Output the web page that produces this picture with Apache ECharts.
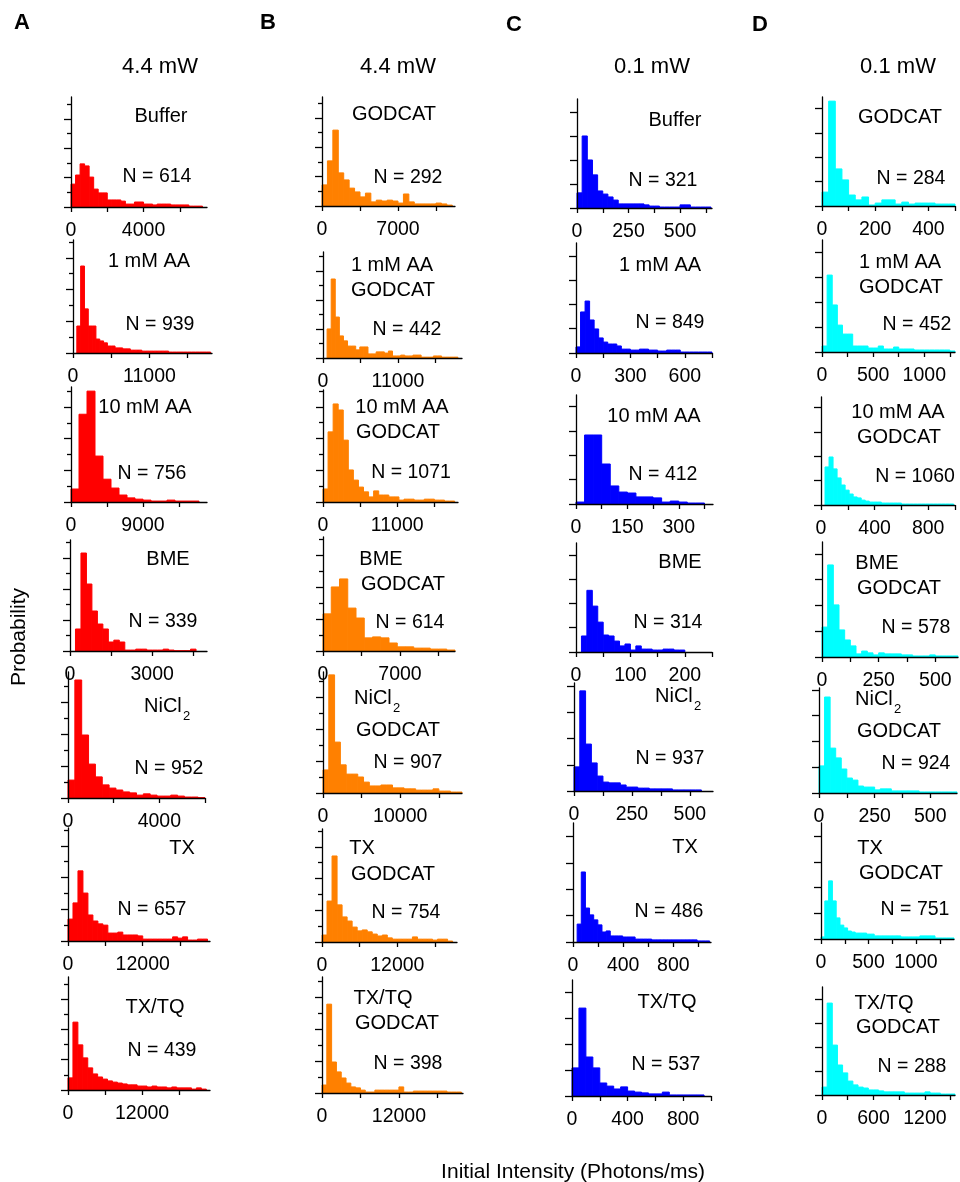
<!DOCTYPE html>
<html><head><meta charset="utf-8">
<script src="https://cdn.jsdelivr.net/npm/echarts@6/dist/echarts.min.js"></script>
<style>html,body{margin:0;padding:0;background:#fff}#c{width:960px;height:1182px}</style>
</head><body><div id="c"></div>
<script>
// ---------------- DATA (probability, % ; bins start at 0) ----------------
const condA = [['Buffer'],['1 mM AA'],['10 mM AA'],['BME'],['NiCl_2'],['TX'],['TX/TQ']];
const condB = [['GODCAT'],['1 mM AA','GODCAT'],['10 mM AA','GODCAT'],['BME','GODCAT'],['NiCl_2','GODCAT'],['TX','GODCAT'],['TX/TQ','GODCAT']];
const condC = condA;
const condD = condB;
const countsA = [614, 939, 756, 339, 952, 657, 439];
const countsB = [292, 442, 1071, 614, 907, 754, 398];
const countsC = [321, 849, 412, 314, 937, 486, 537];
const countsD = [284, 452, 1060, 578, 924, 751, 288];

const binA = [250, 550, 1000, 200, 300, 800, 800];
const binB = [500, 600, 750, 750, 750, 800, 750];
const binC = [25, 25, 25, 10, 25, 33, 50];
const binD = [25, 50, 30, 25, 25, 40, 60];

const xMaxA = [7500, 20000, 17000, 5000, 6000, 22800, 23000];
const xMaxB = [12250, 20400, 20000, 12000, 18000, 21500, 22000];
const xMaxC = [655, 750, 400, 250, 600, 1100, 1000];
const xMaxD = [500, 1300, 1000, 600, 620, 1400, 1550];
const xStepA = [2000, 5500, 4500, 1500, 2000, 6000, 6000];
const xStepB = [3500, 5500, 5500, 3500, 5000, 6000, 6000];
const xStepC = [125, 150, 75, 50, 125, 200, 200];
const xStepD = [100, 250, 200, 125, 125, 250, 300];
const xLabelsA = [[0,4000],[0,11000],[0,9000],[0,3000],[0,4000],[0,12000],[0,12000]];
const xLabelsB = [[0,7000],[0,11000],[0,11000],[0,7000],[0,10000],[0,12000],[0,12000]];
const xLabelsC = [[0,250,500],[0,300,600],[0,150,300],[0,100,200],[0,250,500],[0,400,800],[0,400,800]];
const xLabelsD = [[0,200,400],[0,500,1000],[0,400,800],[0,250,500],[0,250,500],[0,500,1000],[0,600,1200]];
const yMaxA = [37.5, 35.6, 36.3, 35.8, 39.4, 35.6, 37.3];
const yMaxB = [37.2, 36.5, 35.3, 35.6, 37.8, 35.6, 36.3];
const yMaxC = [45.4, 45.3, 44.7, 44.9, 41.2, 45.2, 44.6];
const yMaxD = [44.7, 45.0, 44.3, 44.6, 40.7, 45.1, 45.0];
const yMajorAB = [0, 10, 20, 30];
const yMinorAB = [5, 15, 25, 35];
const yMajorCD = [0, 10, 20, 30, 40];

const probA1 = [7.8,10.9,14.7,14.0,10.2,6.1,4.8,4.8,2.4,2.4,2.4,2.0,1.0,1.0,1.7,1.7,1.0,1.0,0.7,1.0,1.0,1.0,0.7,0.7,0.7,0.7,0.3,0.3,0.3,0];
const probA2 = [0,8.5,27.4,13.9,8.5,8.5,4.4,3.8,3.2,2.2,2.2,1.6,1.6,1.3,1.3,0.9,0.9,0.9,0.6,0.6,0.6,0.6,0.6,0.6,0.6,0.3,0.3,0.3,0.3,0.3,0.3,0.3,0.3,0.3,0.3,0.3];
const probA3 = [4.1,27.7,35.0,14.5,7.2,4.4,2.2,1.3,0.9,0.6,0.3,0.3,0.6,0.3,0.3,0.3,0];
const probA4 = [0,7.1,31.6,21.6,12.9,8.7,7.1,2.9,3.5,2.9,0.3,0.3,0.6,0.6,0.3,0.3,0.3,0.6,0.3,0.1,0.1,0.1,0.6,0,0];
const probA5 = [5.6,36.9,19.7,10.6,6.6,4.1,3.1,2.5,1.9,1.6,0.9,1.3,0.9,0.6,0.6,0.9,0.6,0.3,0.3,0.1];
const probA6 = [6.9,12.0,22.1,15.1,8.2,6.3,5.4,5.0,2.5,2.5,2.8,1.9,1.9,1.9,1.6,0.6,0.6,0.6,0.6,0.6,0.6,1.3,0.9,1.3,0.3,0.3,0.6,0.6];
const probA7 = [4.0,22.4,14.9,10.6,7.3,5.3,4.3,3.6,3.0,2.6,2.3,2.0,1.7,1.7,1.3,1.3,1.0,1.3,1.0,1.0,0.7,1.0,0.7,0.7,0.7,0.3,0.7,0.3];

const probB1 = [7.2,15.4,25.9,11.3,8.9,6.1,4.8,3.1,4.4,1.4,2.0,1.7,2.0,1.7,1.0,4.1,1.4,0.7,0.7,0.7,0.7,1.0,0.7,0.3];
const probB2 = [0,10.0,27.2,14.1,7.6,5.9,4.1,4.1,2.8,3.8,3.8,1.4,1.4,2.1,2.1,1.7,2.4,0.7,0.7,1.0,0.7,0.7,1.0,1.0,0.3,0.3,0.3,0.7,0.7,0.3,0.3,0.3,0.3,0];
const probB3 = [4.1,22.1,30.9,29.0,19.5,10.1,6.9,4.7,3.2,1.6,3.5,2.2,2.2,1.6,1.6,0.6,0.9,0.9,0.6,0.6,0.9,0.9,0.6,0.6,0.3,0.3,0];
const probB4 = [11.6,20.0,22.5,13.4,10.3,4.1,4.4,4.1,2.5,1.3,1.3,0.9,0.9,0.6,0.6,0.3];
const probB5 = [7.2,36.9,15.9,8.8,5.9,5.9,5.0,3.4,2.2,2.2,2.5,2.5,1.6,1.6,1.3,1.3,0.9,0.9,0.9,1.3,0.6,0.6,0.3,0.3];
const probB6 = [2.2,12.9,27.1,11.7,7.9,6.6,4.7,3.5,3.8,3.2,2.5,1.9,2.2,1.3,0.9,0.9,0.9,0.9,1.6,0.9,0.9,0.9,0.6,0.9,0.9,0.3,0];
const probB7 = [2.5,27.8,9.7,6.6,4.7,3.1,1.9,1.6,0.9,0.3,0.3,0.9,0.9,0.9,0.9,0.9,1.9,0.3,0.3,0.6,0.6,0.6,0.6,0.6,0.6,0.6,0.3,0.3,0.3];

const probC1 = [6.3,30.0,20.0,13.8,7.1,5.8,4.6,3.3,1.7,1.7,1.7,1.7,1.7,1.3,0.8,0.8,0.4,0.4,0.4,0.4,1.3,1.3,0.4,0.4,0.4,0.4,0];
const probC2 = [2.5,16.9,21.4,13.6,9.9,6.2,4.5,3.7,3.7,2.9,1.6,1.6,1.2,1.2,1.6,1.6,1.2,1.2,0.8,0.8,1.2,1.2,1.2,0.4,0.4,0.4,0.4,0.4,0.4,0.4];
const probC3 = [0.8,28.3,28.3,16.4,7.4,4.9,4.5,2.9,2.9,2.5,0.8,1.2,0.8,0.4,0.4,0];
const probC4 = [0,6.6,25.4,18.9,12.3,7.0,6.6,4.5,2.5,3.3,0.8,2.5,1.2,1.2,0.8,0.8,1.2,1.2,0.8,0.8,0,0,0,0,0];
const probC5 = [9.2,38.2,17.9,10.7,5.7,3.4,3.1,3.1,2.3,1.5,1.5,1.1,1.1,0.8,0.8,0.8,0.8,0.4,0.4,0.4,0.4,0.4,0,0];
const probC6 = [0,6.8,26.6,12.9,10.3,8.4,6.5,3.8,4.2,2.3,2.3,2.3,1.9,1.9,1.9,1.1,1.1,1.1,1.1,0.8,0.8,0.8,0.8,0.8,0.8,0.8,0.8,0.8,0.8,0.8,0.4,0.4,0.4,0];
const probC7 = [10.8,33.8,15.0,10.8,5.0,3.8,2.7,3.5,1.9,1.5,1.2,0.8,0.8,1.5,0.4,0.4,0.4,0.4,0.4,0];

const probD1 = [5.7,43.0,15.2,10.7,4.5,2.5,3.7,0.4,1.2,2.5,2.5,0.8,1.6,0.8,1.2,1.2,1.2,0.8,0.8,0.8];
const probD2 = [2.4,30.9,18.9,10.8,7.2,7.2,2.4,2.4,2.4,1.6,1.6,2.4,1.2,1.2,2.0,1.2,1.2,1.2,0.8,0.8,0.8,0.8,0.8,0.8,0.8,0.4];
const probD3 = [0,15.6,19.7,14.8,11.1,8.2,6.1,4.5,3.3,2.9,2.0,1.6,1.2,1.2,1.2,0.8,0.8,0.8,0.8,0.8,0.4,0.4,0.4,0.4,0.4,0.4,0.4,0.4,0.4,0.4,0.4,0.4,0.4,0];
const probD4 = [11.6,35.7,20.2,10.5,6.6,4.3,1.2,2.3,1.6,0.8,1.6,1.2,1.2,1.2,0.8,0.8,0.4,0.4,0.4,0.8,0.4,0.4,0.4,0.4];
const probD5 = [10.5,37.2,17.4,13.6,9.3,5.8,5.0,2.7,2.3,2.3,1.2,1.6,1.6,0.8,0.8,0.8,0.8,0.8,0.4,0.4,0.4,0.4,0.4,0.4,0.4];
const probD6 = [0.8,14.8,22.6,14.8,8.2,5.4,4.3,3.1,2.7,2.3,2.3,2.3,1.9,1.9,1.2,1.2,1.2,1.2,1.2,1.2,1.2,0.8,0.8,0.8,0.8,0.8,1.2,1.2,1.2,1.2,0.4,0.4,0.4,0.4,0.4];
const probD7 = [3.3,38.3,20.8,12.5,9.2,5.8,4.2,3.3,2.9,2.1,2.1,1.7,1.3,1.3,1.3,1.3,0.8,0.8,0.8,0.8,1.3,0.8,0.8,0.4,0.4,0.4];

// ---------------- LAYOUT (pixels) ----------------
const boxA = [[71,207,97,207],[73,212,240,353],[71,207,387,502],[70,207,540,651],[68,205,672,798],[68,210,828,941],[68,210,977,1090]];
const boxB = [[322,455,97,206],[323,462,252,358],[323,458,390,502],[323,455,537,651],[323,462,672,793],[322,457,829,942],[322,463,977,1093]];
const boxC = [[577,712,99,208],[576,712,243,353],[576,713,395,504],[576,712,543,652],[574,713,683,791],[573,711,823,942],[572,711,980,1096]];
const boxD = [[822,955,97,206],[822,955,240,352],[821,955,397,505],[822,958,542,657],[819,957,688,793],[821,954,823,939],[822,955,987,1095]];
const labelPosA = [[[161,116]],[[149,261]],[[145,407]],[[168,559]],[[144,706]],[[182,848]],[[155,1007]]];
const labelPosB = [[[394,114]],[[392,265],[393,290]],[[402,407],[398,432]],[[381,559],[403,584]],[[354,698],[398,730]],[[362,848],[393,874]],[[383,998],[397,1023]]];
const labelPosC = [[[675,120]],[[660,265]],[[654,416]],[[680,562]],[[655,696]],[[685,847]],[[667,1002]]];
const labelPosD = [[[900,117]],[[900,262],[901,287]],[[898,412],[899,437]],[[877,563],[899,588]],[[855,699],[899,731]],[[870,848],[901,873]],[[884,1003],[898,1027]]];
const nPosA = [[157,177],[160,325],[152,474],[163,622],[169,769],[152,910],[162,1051]];
const nPosB = [[408,178],[407,330],[411,473],[410,623],[408,763],[406,913],[408,1064]];
const nPosC = [[663,181],[670,323],[663,475],[668,623],[670,759],[669,912],[666,1065]];
const nPosD = [[911,179],[917,325],[915,477],[916,628],[916,764],[915,910],[912,1067]];

const FONT = '"Liberation Sans", Arial, Helvetica, sans-serif';
const columns = [
  {color:'#ff0000', probs:[probA1,probA2,probA3,probA4,probA5,probA6,probA7], bins:binA, xMax:xMaxA, xStep:xStepA, xLabels:xLabelsA, yMax:yMaxA, cond:condA, counts:countsA, box:boxA, lpos:labelPosA, npos:nPosA, minor:true},
  {color:'#ff8000', probs:[probB1,probB2,probB3,probB4,probB5,probB6,probB7], bins:binB, xMax:xMaxB, xStep:xStepB, xLabels:xLabelsB, yMax:yMaxB, cond:condB, counts:countsB, box:boxB, lpos:labelPosB, npos:nPosB, minor:true},
  {color:'#0000ff', probs:[probC1,probC2,probC3,probC4,probC5,probC6,probC7], bins:binC, xMax:xMaxC, xStep:xStepC, xLabels:xLabelsC, yMax:yMaxC, cond:condC, counts:countsC, box:boxC, lpos:labelPosC, npos:nPosC, minor:false},
  {color:'#00ffff', probs:[probD1,probD2,probD3,probD4,probD5,probD6,probD7], bins:binD, xMax:xMaxD, xStep:xStepD, xLabels:xLabelsD, yMax:yMaxD, cond:condD, counts:countsD, box:boxD, lpos:labelPosD, npos:nPosD, minor:false}
];

const grids = [], xAxes = [], yAxes = [], series = [], graphics = [];
const axisLineStyle = {color:'#000', width:1.3};

function txt(x, y, text, size, opts) {
  opts = opts || {};
  graphics.push({type:'text', x:x, y:y, rotation: opts.rotation || 0, silent:true,
    style:{text:text, fill:'#000', fontSize:size, fontFamily:FONT, fontWeight: opts.bold ? 'bold' : 'normal',
      align: opts.align || 'center', verticalAlign:'middle', textAlign: opts.align || 'center', textVerticalAlign:'middle'}});
}

columns.forEach(col => {
  col.probs.forEach((p, r) => {
    const [l, rt, t, b] = col.box[r];
    const gi = grids.length;
    grids.push({left:l, top:t, width:rt - l, height:b - t, containLabel:false, outerBoundsMode:'none'});
    const xm = col.xMax[r], st = col.xStep[r], bw = col.bins[r];
    const ticks = [];
    for (let k = 0; k * st <= xm + 1e-9; k++) ticks.push(k * st);
    xAxes.push({type:'value', gridIndex:gi, min:0, max:xm, z:5,
      axisLine:{show:true, onZero:false, lineStyle:axisLineStyle},
      axisTick:{show:true, length:5, customValues:ticks, lineStyle:axisLineStyle},
      axisLabel:{show:true, customValues:col.xLabels[r], formatter:v => String(v), margin:14,
        fontSize:19.5, fontFamily:FONT, color:'#000'},
      splitLine:{show:false}, minorTick:{show:false}});
    const ym = col.yMax[r];
    const majors = (col.minor ? yMajorAB : yMajorCD).filter(v => v <= ym);
    const yi = yAxes.length;
    yAxes.push({type:'value', gridIndex:gi, position:'left', offset:0, min:0, max:ym, z:5,
      axisLine:{show:true, lineStyle:axisLineStyle},
      axisTick:{show:true, length:7, customValues:majors, lineStyle:axisLineStyle},
      axisLabel:{show:false}, splitLine:{show:false}});
    if (col.minor) {
      yAxes.push({type:'value', gridIndex:gi, position:'left', offset:0, min:0, max:ym, z:5,
        axisLine:{show:false},
        axisTick:{show:true, length:4, customValues:yMinorAB.filter(v => v <= ym), lineStyle:axisLineStyle},
        axisLabel:{show:false}, splitLine:{show:false}});
    }
    const data = [];
    p.forEach((v, i) => { if (v > 0 && i * bw < xm) data.push([i * bw, Math.min((i + 1) * bw, xm), v]); });
    const color = col.color;
    series.push({type:'custom', xAxisIndex:gi, yAxisIndex:yi, silent:true, z:2,
      encode:{x:[0,1], y:2},
      renderItem:(params, api) => {
        const p0 = api.coord([api.value(0), api.value(2)]);
        const p1 = api.coord([api.value(1), 0]);
        return {type:'rect', shape:{x:p0[0], y:p0[1], width:p1[0] - p0[0], height:p1[1] - p0[1]},
          style:{fill:color, stroke:color, lineWidth:1}};
      },
      data:data});
    col.cond[r].forEach((line, li) => {
      const [cx, cy] = col.lpos[r][li];
      if (line.indexOf('_') >= 0) {
        const parts = line.split('_');
        txt(cx, cy, parts[0], 20, {align:'left'});
        txt(cx + 39, cy + 10.5, parts[1], 13, {align:'left'});
      } else {
        txt(cx, cy, line, 20);
      }
    });
    txt(col.npos[r][0], col.npos[r][1], 'N = ' + col.counts[r], 19.5);
  });
});

txt(22, 23, 'A', 22, {bold:true});
txt(268, 23, 'B', 22, {bold:true});
txt(514, 25, 'C', 22, {bold:true});
txt(760, 25, 'D', 22, {bold:true});
txt(160, 67, '4.4 mW', 22);
txt(398, 67, '4.4 mW', 22);
txt(652, 67, '0.1 mW', 22);
txt(898, 67, '0.1 mW', 22);
txt(19, 637, 'Probability', 21, {rotation:Math.PI / 2});
txt(573, 1172, 'Initial Intensity (Photons/ms)', 21);

const chart = echarts.init(document.getElementById('c'), null, {renderer:'canvas', width:960, height:1182});
chart.setOption({
  animation:false,
  backgroundColor:'#ffffff',
  textStyle:{fontFamily:FONT},
  grid:grids, xAxis:xAxes, yAxis:yAxes, series:series, graphic:graphics
});
</script></body></html>
